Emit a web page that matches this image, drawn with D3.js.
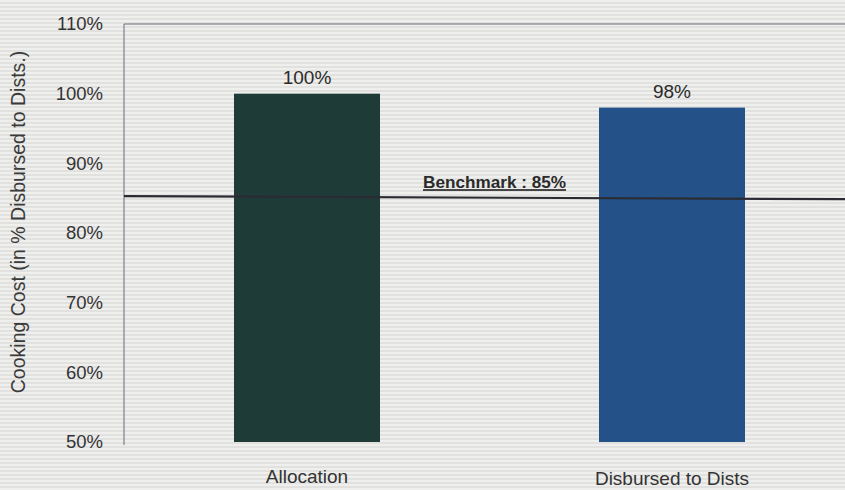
<!DOCTYPE html>
<html>
<head>
<meta charset="utf-8">
<script src="https://cdn.jsdelivr.net/npm/d3@7"></script>
<style>
  body { margin: 0; background: #e5e5e3; }
  svg { display: block; font-family: "Liberation Sans", Arial, sans-serif; }
</style>
</head>
<body>
<div id="chart"></div>
<script>
// chart data
var categories = ["Allocation", "Disbursed to Dists"];
var values = [100, 98];
var labels = ["100%", "98%"];
var ticks = [50, 60, 70, 80, 90, 100, 110];
var benchmark = 85;
var benchmarkLabel = "Benchmark : 85%";
var yTitle = "Cooking Cost (in % Disbursed to Dists.)";

var W = 845, H = 490;
var colors = ["#1f3b37", "#245187"];

var svg = d3.select("#chart").append("svg")
    .attr("width", W)
    .attr("height", H);

// scanned-paper stripes
var defs = svg.append("defs");
var pat = defs.append("pattern")
    .attr("id", "stripes")
    .attr("width", 8).attr("height", 4)
    .attr("patternUnits", "userSpaceOnUse");
pat.append("rect").attr("width", 8).attr("height", 4).attr("fill", "#e1e1df");
pat.append("rect").attr("y", 0).attr("width", 8).attr("height", 2).attr("fill", "#efefed");

svg.append("rect").attr("width", W).attr("height", H).attr("fill", "url(#stripes)");

var y = d3.scaleLinear().domain([50, 110]).range([442, 24]);
var x = d3.scaleBand().domain(categories).range([129, 850])
    .paddingInner(0.6).paddingOuter(0.2877);

// plot frame: left axis and top line
svg.append("line")
    .attr("x1", 124).attr("x2", 124)
    .attr("y1", y(110)).attr("y2", y(50) + 3)
    .attr("stroke", "#6a6a78").attr("stroke-width", 1);
svg.append("line")
    .attr("x1", 124).attr("x2", W)
    .attr("y1", y(110)).attr("y2", y(110))
    .attr("stroke", "#6a6a78").attr("stroke-width", 1.2);

// y tick labels
svg.selectAll(".ytick")
    .data(ticks)
  .enter().append("text")
    .attr("class", "ytick")
    .attr("x", 103)
    .attr("y", function(d){ return y(d); })
    .attr("dy", "0.35em")
    .attr("text-anchor", "end")
    .attr("font-size", 18.5)
    .attr("fill", "#333")
    .text(function(d){ return d + "%"; });

// y title
svg.append("text")
    .attr("transform", "translate(25," + 222 + ") rotate(-90)")
    .attr("text-anchor", "middle")
    .attr("font-size", 19.5)
    .attr("fill", "#3a3a3a")
    .text(yTitle);

// bars
svg.selectAll(".bar")
    .data(values)
  .enter().append("rect")
    .attr("class", "bar")
    .attr("x", function(d, i){ return x(categories[i]); })
    .attr("width", x.bandwidth())
    .attr("y", function(d){ return y(d); })
    .attr("height", function(d){ return y(50) - y(d); })
    .attr("fill", function(d, i){ return colors[i]; });

// value labels
svg.selectAll(".vlabel")
    .data(values)
  .enter().append("text")
    .attr("class", "vlabel")
    .attr("x", function(d, i){ return x(categories[i]) + x.bandwidth() / 2; })
    .attr("y", function(d){ return y(d) - 10; })
    .attr("text-anchor", "middle")
    .attr("font-size", 19)
    .attr("fill", "#2a2a2a")
    .text(function(d, i){ return labels[i]; });

// category labels
svg.selectAll(".xlabel")
    .data(categories)
  .enter().append("text")
    .attr("class", "xlabel")
    .attr("x", function(d){ return x(d) + x.bandwidth() / 2; })
    .attr("y", function(d, i){ return i == 0 ? 483 : 485; })
    .attr("text-anchor", "middle")
    .attr("font-size", 19)
    .attr("fill", "#333")
    .text(function(d){ return d; });

// benchmark line
svg.append("line")
    .attr("x1", 124).attr("x2", W)
    .attr("y1", y(benchmark) - 2).attr("y2", y(benchmark) + 1)
    .attr("stroke", "#2b2b33").attr("stroke-width", 2.2);

svg.append("text")
    .attr("x", 423)
    .attr("y", y(benchmark) - 10)
    .attr("font-size", 17)
    .attr("font-weight", "bold")
    .attr("fill", "#2a2a2a")
    .attr("text-decoration", "underline")
    .attr("textLength", 143)
    .attr("lengthAdjust", "spacingAndGlyphs")
    .text(benchmarkLabel);
</script>
</body>
</html>
